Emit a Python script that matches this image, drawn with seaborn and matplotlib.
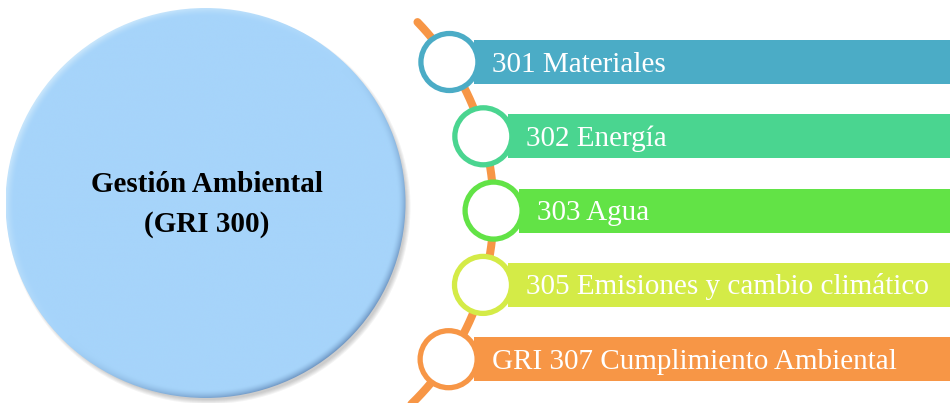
import numpy as np
import matplotlib.pyplot as plt
import seaborn as sns
from matplotlib.patches import Circle, Ellipse

sns.set_style("white")
plt.rcParams['font.family'] = ['Liberation Serif', 'DejaVu Serif']

# Datos del diagrama
titulo = ["Gestión Ambiental", "(GRI 300)"]
temas = ["301 Materiales", "302 Energía", "303 Agua",
         "305 Emisiones y cambio climático", "GRI 307 Cumplimiento Ambiental"]
colores = ["#4BACC6", "#4AD590", "#62E346", "#D4EB47", "#F79646"]
color_linea = "#F79646"

W, H = 950, 403
fig = plt.figure(figsize=(W / 100, H / 100), dpi=100)
ax = fig.add_axes([0, 0, 1, 1])
ax.set_xlim(0, W)
ax.set_ylim(H, 0)
ax.axis('off')

# --- Circulo grande ---
cx0, cy0, rx, ry = 205.5, 203, 200, 195

# sombra suave (abajo a la derecha)
for k in range(5):
    ax.add_patch(Ellipse((cx0 + 3, cy0 + 4), 2 * rx - 4 + 2 * k, 2 * ry - 4 + 2 * k,
                         facecolor='#444444', edgecolor='none', alpha=0.06, zorder=1))

xs = np.linspace(cx0 - rx, cx0 + rx, 402)
ys = np.linspace(cy0 - ry, cy0 + ry, 392)
X, Y = np.meshgrid(xs, ys)
u, v = (X - cx0) / rx, (Y - cy0) / ry
rho = np.sqrt(u ** 2 + v ** 2) + 1e-9
d = (u + v) / (np.sqrt(2) * rho)
borde = np.clip((rho - 0.96) / 0.04, 0, 1) ** 1.6
base = np.array([166, 212, 250]) / 255
oscuro = np.array([110, 150, 195]) / 255
claro = np.array([200, 230, 252]) / 255
img = np.ones(X.shape + (3,)) * base
w_osc = (borde * np.clip(d, 0, 1))[..., None]
w_cla = (borde * np.clip(-d, 0, 1))[..., None]
img = img + w_osc * (oscuro - base) + w_cla * (claro - base)
im = ax.imshow(img, extent=(cx0 - rx, cx0 + rx, cy0 + ry, cy0 - ry),
               interpolation='bilinear', zorder=2)
clip = Ellipse((cx0, cy0), 2 * rx, 2 * ry, transform=ax.transData,
               facecolor='none', edgecolor='none')
ax.add_patch(clip)
im.set_clip_path(clip)

ax.text(207, 184, titulo[0], ha='center', va='center', fontsize=21,
        fontweight='bold', color='black', zorder=5)
ax.text(207, 224, titulo[1], ha='center', va='center', fontsize=21,
        fontweight='bold', color='black', zorder=5)

# --- Arco naranja ---
acx, acy, R = 223.6, 210, 270
t = np.linspace(np.radians(-44.1), np.radians(47), 300)
ax.plot(acx + R * np.cos(t), acy + R * np.sin(t), color=color_linea,
        lw=5.8, solid_capstyle='round', zorder=3)

# --- Barras y anillos ---
y0, paso, alto = 62, 74.3, 44
for i, (tema, col) in enumerate(zip(temas, colores)):
    yc = y0 + i * paso
    xc = acx + np.sqrt(R ** 2 - (yc - acy) ** 2)
    ax.barh(yc, W + 10 - (xc + 25), left=xc + 25, height=alto,
            color=col, edgecolor='none', zorder=4)
    ax.add_patch(Circle((xc, yc), 28.5, facecolor='white', edgecolor=col,
                        lw=3.8, zorder=6))
    ax.text(xc + 43, yc + 9.5, tema, ha='left', va='baseline', fontsize=21,
            color='white', zorder=7)

fig.savefig("out.png", dpi=100)
